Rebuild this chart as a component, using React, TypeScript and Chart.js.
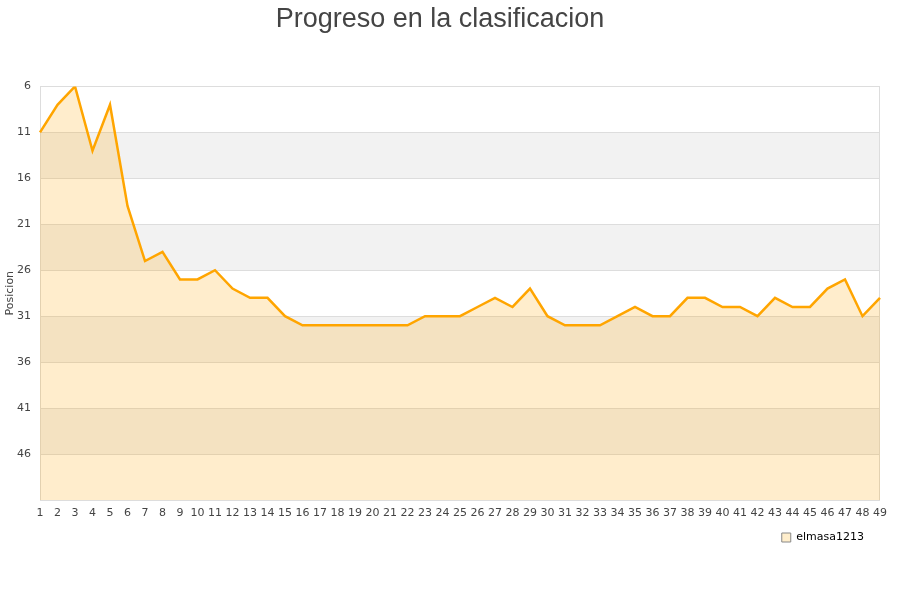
import React, { useEffect, useRef } from "react";
import { Chart, registerables } from "chart.js";

Chart.register(...registerables);

const jornadas: string[] = Array.from({ length: 49 }, (_, i) => String(i + 1));
const posiciones: number[] = [
  11, 8, 6, 13, 8, 19, 25, 24, 27, 27,
  26, 28, 29, 29, 31, 32, 32, 32, 32, 32,
  32, 32, 31, 31, 31, 30, 29, 30, 28, 31,
  32, 32, 32, 31, 30, 31, 31, 29, 29, 30,
  30, 31, 29, 30, 30, 28, 27, 31, 29,
];
const bandas: [number, number][] = [
  [11, 16],
  [21, 26],
  [31, 36],
  [41, 46],
];
const yTicks: number[] = [6, 11, 16, 21, 26, 31, 36, 41, 46, 51];

const bandPlugin = {
  id: "bands",
  afterLayout(chart: any) {
    if (chart.legend) {
      chart.legend.right -= 6;
      chart.legend.left -= 6;
    }
  },
  beforeDatasetsDraw(chart: any) {
    const { ctx, chartArea, scales } = chart;
    const y = scales.y;
    ctx.save();
    ctx.fillStyle = "#f2f2f2";
    for (const [a, b] of bandas) {
      const y1 = y.getPixelForValue(a);
      const y2 = y.getPixelForValue(b);
      ctx.fillRect(chartArea.left, Math.min(y1, y2), chartArea.right - chartArea.left, Math.abs(y2 - y1));
    }
    ctx.strokeStyle = "#dddddd";
    ctx.lineWidth = 1;
    for (const t of yTicks) {
      const p = Math.round(y.getPixelForValue(t)) + 0.5;
      ctx.beginPath();
      ctx.moveTo(chartArea.left, p);
      ctx.lineTo(chartArea.right, p);
      ctx.stroke();
    }
    ctx.strokeRect(
      Math.round(chartArea.left) + 0.5,
      Math.round(chartArea.top) + 0.5,
      Math.round(chartArea.right - chartArea.left) - 1,
      Math.round(chartArea.bottom - chartArea.top)
    );
    ctx.restore();
  },
};

export default function App() {
  const ref = useRef<HTMLCanvasElement | null>(null);
  useEffect(() => {
    if (!ref.current) return;
    const chart = new Chart(ref.current, {
      type: "line",
      data: {
        labels: jornadas,
        datasets: [
          {
            label: "elmasa1213",
            data: posiciones,
            borderColor: "#FFA500",
            backgroundColor: "rgba(255,165,0,0.2)",
            borderWidth: 2.5,
            pointRadius: 0,
            tension: 0,
            fill: "start",
          },
        ],
      },
      options: {
        animation: false,
        responsive: false,
        maintainAspectRatio: false,
        layout: { padding: { left: 0, right: 20, top: 0, bottom: 47 } },
        plugins: {
          title: {
            display: true,
            text: "Progreso en la clasificacion",
            color: "#444444",
            font: { family: "Liberation Sans", size: 27, weight: "normal" },
            padding: { top: 3, bottom: 51 },
          },
          legend: {
            display: true,
            position: "bottom",
            align: "end",
            labels: {
              boxWidth: 9,
              boxHeight: 9,
              padding: 10,
              color: "#333333",
              font: { family: "DejaVu Sans", size: 11 },
              generateLabels: () => [
                {
                  text: "elmasa1213",
                  fillStyle: "#FFEECC",
                  strokeStyle: "#888888",
                  lineWidth: 1,
                  hidden: false,
                  datasetIndex: 0,
                },
              ],
            },
          },
          tooltip: { enabled: false },
        },
        scales: {
          x: {
            offset: false,
            grid: { display: false, drawTicks: false },
            border: { display: false },
            ticks: {
              color: "#444444",
              font: { family: "DejaVu Sans", size: 11 },
              padding: 7,
              maxRotation: 0,
              autoSkip: false,
            },
            afterFit: (s: any) => {
              s.height = 22;
            },
          },
          y: {
            reverse: true,
            min: 6,
            max: 51,
            grid: { display: false, drawTicks: false },
            border: { display: false },
            afterBuildTicks: (s: any) => {
              s.ticks = yTicks.map((v) => ({ value: v }));
            },
            ticks: {
              color: "#444444",
              font: { family: "DejaVu Sans", size: 11 },
              padding: 9,
              callback: (v: any) => (Number(v) === 51 ? "" : String(v)),
            },
            title: {
              display: true,
              text: "Posicion",
              color: "#444444",
              font: { family: "DejaVu Sans", size: 11 },
              padding: { top: 4, bottom: 0 },
            },
            afterFit: (s: any) => {
              s.width = 40;
            },
          },
        },
      },
      plugins: [bandPlugin],
    });
    return () => chart.destroy();
  }, []);
  return (
    <div style={{ position: "fixed", left: 0, top: 0, width: 900, height: 600, background: "#fff" }}>
      <canvas ref={ref} width={900} height={600} style={{ width: 900, height: 600 }} />
    </div>
  );
}
